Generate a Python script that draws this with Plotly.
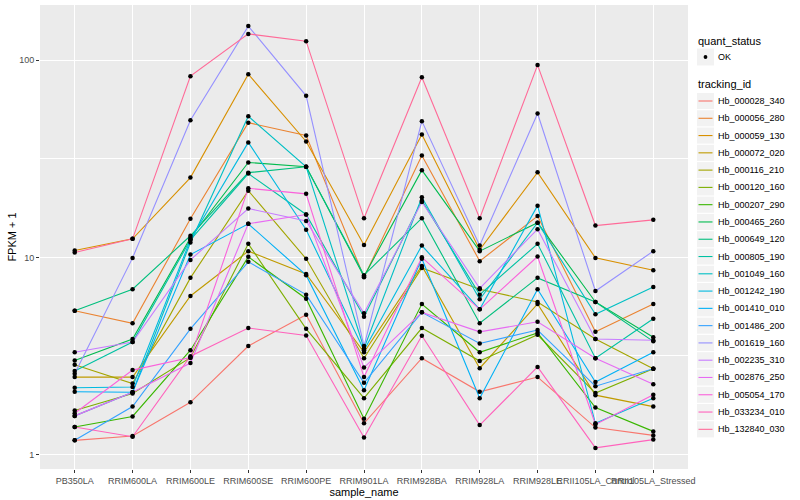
import math
import plotly.graph_objects as go

samples = ["PB350LA", "RRIM600LA", "RRIM600LE", "RRIM600SE", "RRIM600PE", "RRIM901LA",
           "RRIM928BA", "RRIM928LA", "RRIM928LE", "RRII105LA_Control", "RRII105LA_Stressed"]

tracking_ids = ["Hb_000028_340", "Hb_000056_280", "Hb_000059_130", "Hb_000072_020", "Hb_000116_210",
                "Hb_000120_160", "Hb_000207_290", "Hb_000465_260", "Hb_000649_120", "Hb_000805_190",
                "Hb_001049_160", "Hb_001242_190", "Hb_001410_010", "Hb_001486_200", "Hb_001619_160",
                "Hb_002235_310", "Hb_002876_250", "Hb_005054_170", "Hb_033234_010", "Hb_132840_030"]

# FPKM + 1 values, one list per tracking_id (order follows `samples`)
hb_000028_340 = [1.18, 1.24, 1.84, 3.55, 5.12, 1.44, 3.08, 2.08, 2.47, 1.37, 1.25]
hb_000056_280 = [5.36, 4.63, 15.7, 48.2, 41.5, 7.93, 32.9, 9.57, 16.2, 4.19, 5.8]
hb_000059_130 = [10.83, 12.42, 25.4, 85.0, 38.7, 11.54, 42.0, 10.92, 27.0, 9.94, 8.61]
hb_000072_020 = [2.47, 2.47, 6.37, 10.75, 8.24, 3.3, 9.05, 2.74, 5.8, 2.0, 1.75]
hb_000116_210 = [2.85, 2.29, 7.87, 21.8, 9.83, 3.08, 8.84, 6.89, 5.94, 3.85, 2.72]
hb_000120_160 = [1.67, 2.04, 3.10, 11.71, 4.34, 1.93, 4.38, 2.98, 4.05, 2.05, 2.72]
hb_000207_290 = [1.38, 1.56, 3.38, 10.06, 6.17, 1.52, 5.8, 3.30, 4.14, 1.73, 1.31]
hb_000465_260 = [3.0, 3.85, 12.57, 30.3, 28.8, 8.0, 27.7, 10.75, 15.0, 5.94, 3.93]
hb_000649_120 = [5.36, 6.89, 12.87, 26.9, 28.8, 8.12, 15.8, 4.63, 7.87, 5.94, 3.75]
hb_000805_190 = [2.65, 3.72, 12.28, 26.6, 16.5, 5.0, 19.4, 6.47, 11.71, 3.08, 4.88]
hb_001049_160 = [1.57, 2.07, 11.89, 52.0, 28.8, 3.46, 20.2, 6.13, 15.0, 5.14, 7.08]
hb_001242_190 = [2.18, 2.20, 12.28, 38.3, 13.8, 3.38, 11.48, 5.45, 18.3, 1.44, 1.93]
hb_001410_010 = [2.08, 2.07, 10.33, 14.8, 8.12, 2.12, 9.83, 1.93, 6.89, 2.33, 3.30]
hb_001486_200 = [1.18, 1.75, 4.34, 9.49, 6.47, 2.31, 5.26, 3.66, 4.28, 2.22, 2.72]
hb_001619_160 = [2.57, 9.94, 49.6, 149.0, 66.0, 3.55, 49.1, 11.48, 53.7, 6.75, 10.75]
hb_002235_310 = [3.30, 3.72, 9.71, 17.7, 15.3, 5.2, 19.1, 6.97, 13.9, 3.85, 3.80]
hb_002876_250 = [1.57, 2.07, 2.91, 14.8, 16.5, 2.76, 5.26, 4.19, 4.71, 3.08, 2.27]
hb_005054_170 = [1.62, 2.68, 3.10, 22.4, 21.0, 2.47, 10.0, 5.45, 10.1, 1.42, 2.01]
hb_033234_010 = [1.38, 1.23, 3.15, 4.38, 4.02, 1.22, 4.0, 1.41, 2.78, 1.08, 1.19]
hb_132840_030 = [10.58, 12.42, 83.0, 136.0, 125.0, 15.8, 82.0, 15.8, 94.5, 14.5, 15.5]

series_values = [hb_000028_340, hb_000056_280, hb_000059_130, hb_000072_020, hb_000116_210,
                 hb_000120_160, hb_000207_290, hb_000465_260, hb_000649_120, hb_000805_190,
                 hb_001049_160, hb_001242_190, hb_001410_010, hb_001486_200, hb_001619_160,
                 hb_002235_310, hb_002876_250, hb_005054_170, hb_033234_010, hb_132840_030]

quant_status = ["OK"]


def hcl_hex(h, c=100.0, l=65.0):
    Xn, Yn, Zn = 95.047, 100.0, 108.883
    Y = Yn * ((l + 16) / 116) ** 3 if l > 7.999592 else Yn * l / 903.3
    u = c * math.cos(math.radians(h))
    v = c * math.sin(math.radians(h))
    den = Xn + 15 * Yn + 3 * Zn
    un, vn = 4 * Xn / den, 9 * Yn / den
    up = u / (13 * l) + un
    vp = v / (13 * l) + vn
    X = 9.0 * Y * up / (4 * vp)
    Z = Y * (12 - 3 * up - 20 * vp) / (4 * vp)
    X, Y, Z = X / 100, Y / 100, Z / 100
    r = 3.240479 * X - 1.537150 * Y - 0.498535 * Z
    g = -0.969256 * X + 1.875992 * Y + 0.041556 * Z
    b = 0.055648 * X - 0.204043 * Y + 1.057311 * Z

    def gam(t):
        t = 12.92 * t if t <= 0.0031308 else 1.055 * t ** (1 / 2.4) - 0.055
        return int(round(min(max(t, 0.0), 1.0) * 255))
    return "#%02X%02X%02X" % (gam(r), gam(g), gam(b))


n = len(tracking_ids)
colors = [hcl_hex((15 + i * 360.0 / n) % 360) for i in range(n)]

fig = go.Figure()
for name, vals, col in zip(tracking_ids, series_values, colors):
    fig.add_trace(go.Scatter(x=samples, y=vals, mode="lines", name=name,
                             line=dict(color=col, width=1.1), showlegend=False))

px_all, py_all = [], []
for vals in series_values:
    px_all += samples
    py_all += vals
fig.add_trace(go.Scatter(x=px_all, y=py_all, mode="markers", name=quant_status[0],
                         marker=dict(color="black", size=4.5), showlegend=False))

allv = [v for vals in series_values for v in vals]
lmin, lmax = math.log10(min(allv)), math.log10(max(allv))
pad = 0.05 * (lmax - lmin)

# geometry of the panel in pixels
W, H = 800, 500
ML, MR, MT, MB = 40, 112, 5, 31
PW, PH = W - ML - MR, H - MT - MB


def pxx(x):
    return (x - ML) / PW


def pxy(y):
    return (H - MB - y) / PH


FONT = "Liberation Sans, Arial, sans-serif"
shapes, annotations = [], []

# legend: quant_status
annotations.append(dict(x=pxx(696), y=pxy(41), xref="paper", yref="paper", text="quant_status",
                        showarrow=False, xanchor="left", yanchor="middle",
                        font=dict(family=FONT, size=11, color="black")))
shapes.append(dict(type="rect", xref="paper", yref="paper", x0=pxx(697), x1=pxx(714),
                   y0=pxy(48.5), y1=pxy(65.5), fillcolor="#F2F2F2", line=dict(width=0), layer="below"))
shapes.append(dict(type="circle", xref="paper", yref="paper", x0=pxx(703.6), x1=pxx(707.4),
                   y0=pxy(55.1), y1=pxy(58.9), fillcolor="black", line=dict(width=0)))
annotations.append(dict(x=pxx(716), y=pxy(57), xref="paper", yref="paper", text=quant_status[0],
                        showarrow=False, xanchor="left", yanchor="middle",
                        font=dict(family=FONT, size=9, color="black")))
# legend: tracking_id
annotations.append(dict(x=pxx(696), y=pxy(84), xref="paper", yref="paper", text="tracking_id",
                        showarrow=False, xanchor="left", yanchor="middle",
                        font=dict(family=FONT, size=11, color="black")))
step = 17.28
for i, (name, col) in enumerate(zip(tracking_ids, colors)):
    yc = 101 + i * step
    shapes.append(dict(type="rect", xref="paper", yref="paper", x0=pxx(697), x1=pxx(714),
                       y0=pxy(yc - step / 2 + 0.6), y1=pxy(yc + step / 2 - 0.6),
                       fillcolor="#F2F2F2", line=dict(width=0), layer="below"))
    shapes.append(dict(type="line", xref="paper", yref="paper", x0=pxx(698.5), x1=pxx(712.5),
                       y0=pxy(yc), y1=pxy(yc), line=dict(color=col, width=1.1)))
    annotations.append(dict(x=pxx(716), y=pxy(yc), xref="paper", yref="paper", text=name,
                            showarrow=False, xanchor="left", yanchor="middle",
                            font=dict(family=FONT, size=9, color="black")))

fig.update_layout(
    width=W, height=H,
    margin=dict(l=ML, r=MR, t=MT, b=MB, pad=0),
    paper_bgcolor="white", plot_bgcolor="#EBEBEB",
    showlegend=False,
    font=dict(family=FONT, size=9, color="#4D4D4D"),
    shapes=shapes, annotations=annotations,
    xaxis=dict(type="category", categoryorder="array", categoryarray=samples,
               range=[-0.6, len(samples) - 0.4], tickangle=0,
               showgrid=True, gridcolor="white", gridwidth=1.2, zeroline=False,
               ticks="outside", ticklen=3, tickcolor="#333333", tickwidth=1,
               tickfont=dict(family=FONT, size=9, color="#4D4D4D"),
               title=dict(text="sample_name", font=dict(family=FONT, size=11, color="black"), standoff=0),
               showline=False, automargin=False),
    yaxis=dict(type="log", range=[lmin - pad, lmax + pad],
               tickmode="array", tickvals=[1, 10, 100], ticktext=["1", "10", "100"],
               showgrid=True, gridcolor="white", gridwidth=1.2, zeroline=False,
               minor=dict(tickmode="array", tickvals=[10 ** 0.5, 10 ** 1.5], showgrid=True,
                          gridcolor="white", gridwidth=0.6, ticks=""),
               ticks="outside", ticklen=3, tickcolor="#333333", tickwidth=1,
               tickfont=dict(family=FONT, size=9, color="#4D4D4D"),
               title=dict(text="FPKM + 1", font=dict(family=FONT, size=11, color="black"), standoff=0),
               showline=False, automargin=False),
)

fig.write_html("out.html", config={"displayModeBar": False},
               post_script="document.body.style.margin='0';document.body.style.padding='0';")
